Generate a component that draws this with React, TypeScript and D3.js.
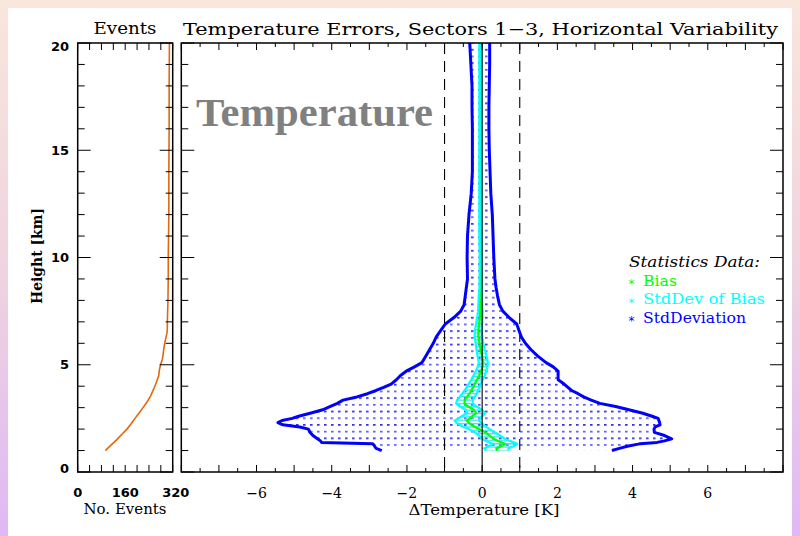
import React, { useEffect } from "react";
import * as d3 from "d3";

// ---- data ----
const heights = [1.0,1.1,1.2,1.3,1.32,1.38,1.45,1.55,1.7,1.85,2.0,2.1,2.2,2.3,2.4,2.5,2.6,2.75,2.9,3.05,3.2,3.35,3.5,3.65,3.8,3.95,4.1,4.3,4.5,4.7,4.9,5.1,5.4,5.7,6.0,6.3,6.6,6.9,7.2,7.5,7.8,8.2,8.6,9.0,10,11,12,13,14,15,16,17,18,19,20];
const stdLower = [-2.67,-2.82,-2.86,-2.9,-2.92,-4.27,-4.3,-4.38,-4.5,-4.58,-4.62,-4.85,-5.3,-5.43,-5.32,-5.05,-4.88,-4.55,-4.24,-4.05,-3.85,-3.7,-3.33,-3.05,-2.82,-2.62,-2.42,-2.28,-2.17,-2.02,-1.8,-1.6,-1.5,-1.4,-1.3,-1.22,-1.1,-0.98,-0.75,-0.57,-0.48,-0.45,-0.42,-0.39,-0.4,-0.39,-0.35,-0.29,-0.26,-0.26,-0.26,-0.27,-0.27,-0.3,-0.33];
const stdUpper = [3.45,3.65,3.86,4.15,4.2,4.65,4.85,5.04,4.85,4.58,4.57,4.6,4.73,4.72,4.7,4.68,4.52,4.25,3.9,3.55,3.13,2.9,2.7,2.55,2.38,2.28,2.18,2.02,2.02,2.02,1.89,1.7,1.48,1.3,1.15,1.04,0.98,0.92,0.72,0.55,0.46,0.41,0.37,0.34,0.31,0.29,0.27,0.23,0.21,0.19,0.18,0.18,0.19,0.2,0.2];
const bias = [0.4,0.38,0.5,0.6,0.6,0.52,0.42,0.3,0.2,0.08,-0.08,-0.19,-0.28,-0.36,-0.41,-0.33,-0.27,-0.16,-0.22,-0.37,-0.47,-0.46,-0.4,-0.34,-0.29,-0.24,-0.2,-0.14,-0.08,-0.03,0.01,0.03,0.0,-0.04,-0.07,-0.1,-0.1,-0.08,-0.06,-0.05,-0.05,-0.05,-0.04,-0.04,-0.04,-0.05,-0.05,-0.05,-0.05,-0.05,-0.05,-0.05,-0.05,-0.05,-0.05];
const biasStd = [0.3,0.32,0.33,0.33,0.33,0.33,0.32,0.3,0.28,0.27,0.28,0.3,0.32,0.33,0.32,0.3,0.27,0.24,0.22,0.22,0.22,0.21,0.2,0.19,0.18,0.17,0.16,0.15,0.15,0.14,0.13,0.12,0.12,0.11,0.1,0.1,0.09,0.08,0.07,0.06,0.05,0.04,0.03,0.03,0.025,0.025,0.025,0.025,0.025,0.025,0.025,0.025,0.025,0.025,0.025];

const eventHeights = [1.0,1.25,1.5,1.75,2.0,2.25,2.5,2.75,3.0,3.25,3.5,3.75,4.0,4.25,4.5,4.75,5.0,5.25,5.5,5.75,6.0,6.25,6.5,6.75,7.0,7.5,8,9,10,11,12,14,16,18,20];
const eventCounts = [93,112,131,148,166,180,193,207,220,233,244,252,260,267,273,275,279,285,288,290,293,297,301,302,302,303,304,305,305,306,307,307,308,308,309];

const heightTicks = [0, 5, 10, 15, 20];
const eventTicks = [0, 160, 320];
const tempTicks = [-6, -4, -2, 0, 2, 4, 6];
const legendItems = [
  { label: "Bias", color: "#00ff00" },
  { label: "StdDev of Bias", color: "#00ffff" },
  { label: "StdDeviation", color: "#0000ff" },
];

export default function App() {
  useEffect(() => {
    const bg = "linear-gradient(to bottom, #f9e6dc 0%, #efd3e0 50%, #dfb7f6 100%)";
    document.documentElement.style.overflow = "hidden";
    document.documentElement.style.background = bg;
    document.body.style.background = bg;
  }, []);

  const yH = d3.scaleLinear().domain([0, 20]).range([472, 43]);
  const xT = d3.scaleLinear().domain([-8, 8]).range([181.3, 783]);
  const xE = d3.scaleLinear().domain([0, 320]).range([77.7, 172.7]);

  const idx = d3.range(heights.length);
  const lineFrom = (vals: number[]) =>
    d3.line<number>().x((i) => xT(vals[i])).y((i) => yH(heights[i]))(idx) || "";
  const areaBetween = (lo: number[], hi: number[]) =>
    d3
      .area<number>()
      .y((i) => yH(heights[i]))
      .x0((i) => xT(lo[i]))
      .x1((i) => xT(hi[i]))(idx) || "";

  const cyanLo = bias.map((b, i) => b - biasStd[i]);
  const cyanHi = bias.map((b, i) => b + biasStd[i]);

  const evLine =
    d3
      .line<number>()
      .x((i) => xE(eventCounts[i]))
      .y((i) => yH(eventHeights[i]))(d3.range(eventHeights.length)) || "";

  const hMinor = d3.range(0, 21, 1);
  const tMinor = d3.range(-8, 8.01, 0.5);
  const eMinor = d3.range(0, 321, 40);

  const serif = "'DejaVu Serif', serif";
  const sans = "'DejaVu Sans', sans-serif";

  const [mL, mR] = xT.range();
  const [eL, eR] = xE.range();
  const yTop = yH(20), yBot = yH(0);

  return (
    <svg width={792} height={528} style={{ display: "block", background: "#fff" }}>
      <defs>
        <pattern id="dots" patternUnits="userSpaceOnUse" width={7} height={13.4} x={0} y={1}>
          <rect x={2} y={1} width={2.6} height={1.6} fill="#5252ff" />
          <rect x={2} y={7.7} width={2.6} height={1.6} fill="#2222ee" />
        </pattern>
        <pattern id="hlines" patternUnits="userSpaceOnUse" width={4} height={3.35}>
          <rect x={0} y={1} width={4} height={1.1} fill="#00e5e5" />
        </pattern>
      </defs>
      <g transform="translate(-8,-8)">
        {/* ---- titles ---- */}
        <text x={125} y={34} textAnchor="middle" fontFamily={serif} fontSize={17} textLength={63} lengthAdjust="spacingAndGlyphs">Events</text>
        <text x={183} y={35} fontFamily={serif} fontSize={17} textLength={595} lengthAdjust="spacingAndGlyphs">Temperature Errors, Sectors 1−3, Horizontal Variability</text>

        {/* ---- left panel ---- */}
        <path d={evLine} fill="none" stroke="#e0680f" strokeWidth={1.6} />
        {hMinor.map((h) => {
          const len = h % 5 === 0 ? 13 : 7;
          return (
            <g key={"el" + h} stroke="#000" strokeWidth={1}>
              <line x1={eL} x2={eL + len} y1={yH(h)} y2={yH(h)} />
              <line x1={eR} x2={eR - len} y1={yH(h)} y2={yH(h)} />
            </g>
          );
        })}
        {eMinor.map((e) => (
          <g key={"ex" + e} stroke="#000" strokeWidth={1}>
            <line x1={xE(e)} x2={xE(e)} y1={yBot} y2={yBot - 7} />
            <line x1={xE(e)} x2={xE(e)} y1={yTop} y2={yTop + 7} />
          </g>
        ))}
        <rect x={eL} y={yTop} width={eR - eL} height={yBot - yTop} fill="none" stroke="#000" strokeWidth={1.5} />
        {heightTicks.map((h) => (
          <text key={"hl" + h} x={69} y={Math.min(Math.max(yH(h), 46), 468)} dy="0.36em" textAnchor="end" fontFamily={sans} fontWeight="bold" fontSize={13}>{h}</text>
        ))}
        <text transform={`translate(42,256) rotate(-90)`} textAnchor="middle" fontFamily={serif} fontWeight="bold" fontSize={14} textLength={96} lengthAdjust="spacingAndGlyphs">Height [km]</text>
        {eventTicks.map((e) => (
          <text key={"el" + e} x={xE(e) + (e === 320 ? 3 : 0)} y={492} dy="0.36em" textAnchor="middle" fontFamily={sans} fontWeight="bold" fontSize={13}>{e}</text>
        ))}
        <text x={125} y={514} textAnchor="middle" fontFamily={serif} fontSize={14} textLength={83} lengthAdjust="spacingAndGlyphs">No. Events</text>

        {/* ---- main panel ---- */}
        <path d={areaBetween(stdLower, stdUpper)} fill="url(#dots)" stroke="none" />
        <text x={196} y={126} fontFamily="'Liberation Serif', serif" fontWeight="bold" fontSize={40} fill="#808080" textLength={237} lengthAdjust="spacingAndGlyphs">Temperature</text>
        {[-1, 1].map((v) => (
          <line key={"d" + v} x1={xT(v)} x2={xT(v)} y1={yTop} y2={yBot} stroke="#000" strokeWidth={1.1} strokeDasharray="11 7" />
        ))}
        <path d={areaBetween(cyanLo, cyanHi)} fill="url(#hlines)" stroke="none" />
        <path d={lineFrom(bias)} fill="none" stroke="#00ff00" strokeWidth={2.2} />
        <path d={lineFrom(cyanLo)} fill="none" stroke="#00ffff" strokeWidth={2.2} />
        <path d={lineFrom(cyanHi)} fill="none" stroke="#00ffff" strokeWidth={2.2} />
        <line x1={xT(0)} x2={xT(0)} y1={yTop} y2={yBot} stroke="#000" strokeWidth={1.1} />
        <path d={lineFrom(stdLower)} fill="none" stroke="#0000ff" strokeWidth={3} strokeLinejoin="round" />
        <path d={lineFrom(stdUpper)} fill="none" stroke="#0000ff" strokeWidth={3} strokeLinejoin="round" />

        {hMinor.map((h) => {
          const len = h % 5 === 0 ? 13 : 7;
          return (
            <g key={"ml" + h} stroke="#000" strokeWidth={1}>
              <line x1={mL} x2={mL + len} y1={yH(h)} y2={yH(h)} />
              <line x1={mR} x2={mR - len} y1={yH(h)} y2={yH(h)} />
            </g>
          );
        })}
        {tMinor.map((t) => {
          const len = Math.abs(t % 1) < 1e-9 ? 7 : 4;
          return (
            <g key={"mx" + t} stroke="#000" strokeWidth={1}>
              <line x1={xT(t)} x2={xT(t)} y1={yBot} y2={yBot - len} />
              <line x1={xT(t)} x2={xT(t)} y1={yTop} y2={yTop + len} />
            </g>
          );
        })}
        <rect x={mL} y={yTop} width={mR - mL} height={yBot - yTop} fill="none" stroke="#000" strokeWidth={1.5} />
        {tempTicks.map((t) => (
          <text key={"tl" + t} x={xT(t)} y={493} dy="0.36em" textAnchor="middle" fontFamily={serif} fontSize={14}>{t < 0 ? "−" + Math.abs(t) : String(t)}</text>
        ))}
        <text x={484} y={515} textAnchor="middle" fontFamily={serif} fontSize={15} textLength={151} lengthAdjust="spacingAndGlyphs">ΔTemperature [K]</text>

        {/* ---- legend ---- */}
        <text x={629} y={266.5} fontFamily={serif} fontStyle="italic" fontSize={15} textLength={131} lengthAdjust="spacingAndGlyphs">Statistics Data:</text>
        {legendItems.map((it, i) => (
          <g key={it.label} fill={it.color}>
            <text x={631.5} y={288 + i * 18.5} textAnchor="middle" fontFamily={sans} fontSize={12}>*</text>
            <text x={643} y={285.7 + i * 18.5} fontFamily={serif} fontSize={15} textLength={i === 0 ? 34 : i === 1 ? 122 : 103} lengthAdjust="spacingAndGlyphs">{it.label}</text>
          </g>
        ))}
      </g>
    </svg>
  );
}
